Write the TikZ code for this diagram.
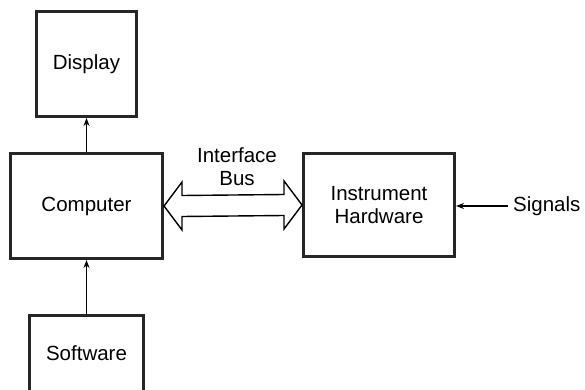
\documentclass[tikz,border=0pt]{standalone}
\usepackage{fontspec}
\setmainfont{Liberation Sans}
\usetikzlibrary{calc,arrows.meta}
\begin{document}
\begin{tikzpicture}[x=1pt,y=-1pt,
  blk/.style={draw=black!85, line width=3pt, minimum width=#1, inner sep=0pt, font=\fontsize{20.5}{23}\selectfont, align=center},
  lbl/.style={inner sep=0pt, font=\fontsize{20.5}{23}\selectfont, align=center},
  conn/.style={line width=1.3pt, -{Stealth[length=8pt,width=6pt]}},
  bus/.style={line width=1.4pt, fill=white}]
\useasboundingbox (0,0) rectangle (585,390);
\begin{scope}
\clip (0,0) rectangle (585,390);
\node[blk=100pt, minimum height=105pt] (disp) at (86.5,64) {Display};
\node[blk=152pt, minimum height=105pt] (comp) at (86.5,206) {Computer};
\node[blk=151pt, minimum height=103pt] (hw) at (379,205) {Instrument\\Hardware};
\node[blk=114pt, minimum height=76pt] (soft) at (86.5,353) {Software};
\end{scope}
\node[lbl, anchor=west] (sig) at (513,206) {Signals};
\node[lbl] (ib) at (237,167) {Interface\\Bus};
\draw[conn] (comp.north) -- (disp.south);
\draw[conn] (soft.north) -- (comp.south);
\coordinate (sigst) at ($(sig.west)+(-5,0)$);
\draw[conn] (sigst) -- (sigst -| hw.east);
\coordinate (L) at (comp.east);
\coordinate (R) at (hw.west);
\draw[bus] (L) -- ++(18,-24) -- ++(0,13.5) -- ($(R)+(-18,-10.5)$) -- ++(0,-13.5) -- (R)
  -- ++(-18,24) -- ++(0,-13.5) -- ($(L)+(18,10.5)$) -- ++(0,13.5) -- cycle;
\end{tikzpicture}
\end{document}
